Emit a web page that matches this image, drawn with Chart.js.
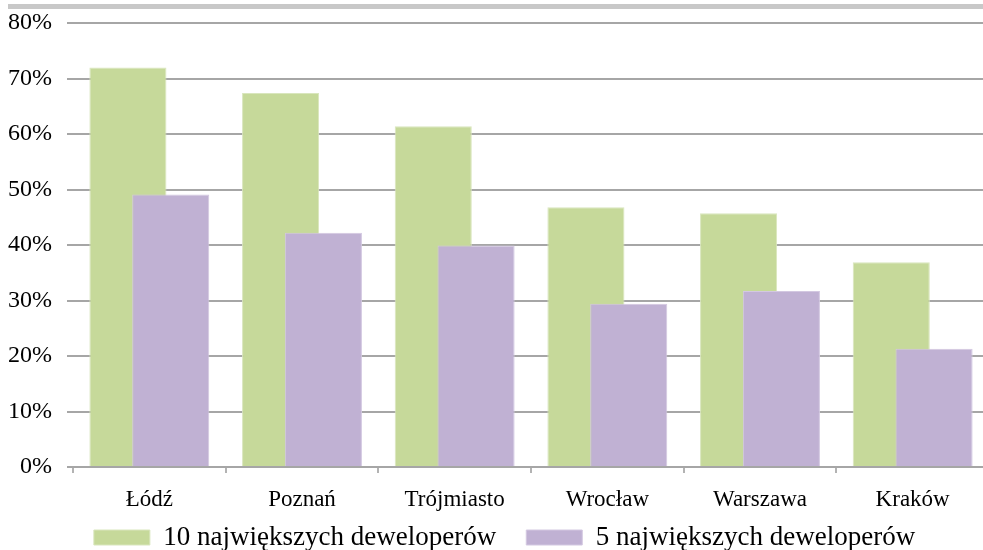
<!DOCTYPE html>
<html>
<head>
<meta charset="utf-8">
<script src="https://cdn.jsdelivr.net/npm/chart.js@4.4.1/dist/chart.umd.min.js"></script>
<style>
  html, body { margin: 0; padding: 0; background: #fff; overflow: hidden; width: 983px; height: 550px; }
  #wrap { position: relative; width: 983px; height: 550px; overflow: hidden; }
  #rule { position: absolute; left: 8px; right: 0; top: 4px; height: 5px; background: #c8c8c8; }
  canvas { position: absolute; left: 0; top: 0; }
</style>
</head>
<body>
<div id="wrap">
  <div id="rule"></div>
  <canvas id="c" width="1009" height="550"></canvas>
</div>
<script>
// Market share of the largest developers by city (%)
const cities = ['Łódź', 'Poznań', 'Trójmiasto', 'Wrocław', 'Warszawa', 'Kraków'];
const top10Share = [72.0, 67.4, 61.4, 46.8, 45.7, 36.9];
const top5Share = [49.1, 42.2, 39.9, 29.4, 31.7, 21.3];
const seriesNames = ['10 największych deweloperów', '5 największych deweloperów'];
const yMin = 0, yMax = 80, yStep = 10;

const FONT = 'Liberation Serif';
const GRID = '#a6a6a6';

// Paint datasets left-to-right so the second series overlaps the first.
const paintLeftFirst = {
  id: 'paintLeftFirst',
  beforeDatasetsDraw(chart) {
    chart.getSortedVisibleDatasetMetas().forEach(meta => meta.controller.draw());
    return false;
  }
};

// Tuck the legend up closer to the category labels.
const liftLegend = {
  id: 'liftLegend',
  afterLayout(chart) {
    if (chart.legend) chart.legend.top -= 20;
  }
};

new Chart(document.getElementById('c'), {
  type: 'bar',
  data: {
    labels: cities,
    datasets: [
      {
        label: seriesNames[0],
        data: top10Share,
        backgroundColor: '#c6d99a',
        borderColor: '#d9e6bd',
        borderWidth: 1
      },
      {
        label: seriesNames[1],
        data: top5Share,
        backgroundColor: '#c0b1d3',
        borderColor: '#d3c8e1',
        borderWidth: 1
      }
    ]
  },
  options: {
    responsive: false,
    devicePixelRatio: 1,
    animation: false,
    categoryPercentage: 0.561,
    barPercentage: 1.8,
    layout: { padding: { top: 23, left: 0, right: 0, bottom: 0 } },
    plugins: {
      tooltip: { enabled: false },
      legend: {
        position: 'bottom',
        maxHeight: 36,
        labels: {
          boxWidth: 56,
          boxHeight: 15,
          padding: 30,
          color: '#000',
          font: { family: FONT, size: 27 }
        }
      }
    },
    scales: {
      x: {
        grid: {
          display: true,
          drawOnChartArea: false,
          drawTicks: true,
          tickLength: 6,
          offset: true,
          color: '#b3b3b3',
          lineWidth: 2
        },
        border: { display: true, color: GRID, width: 2 },
        ticks: { color: '#000', font: { family: FONT, size: 23 }, padding: 13, maxRotation: 0 },
        afterFit(scale) { scale.height = 47; }
      },
      y: {
        min: yMin,
        max: yMax,
        grid: { color: GRID, lineWidth: 2, drawTicks: true, tickLength: 6 },
        border: { display: false },
        ticks: {
          stepSize: yStep,
          color: '#000',
          font: { family: FONT, size: 24, lineHeight: 0.5 },
          padding: 15,
          callback: v => v + '%'
        },
        afterFit(scale) { scale.width = 73; }
      },
      edge: {
        type: 'linear',
        position: 'right',
        display: true,
        grid: { display: false, drawTicks: false },
        border: { display: false },
        ticks: { display: false },
        afterFit(scale) { scale.width = 20; }
      }
    }
  },
  plugins: [paintLeftFirst, liftLegend]
});
</script>
</body>
</html>
